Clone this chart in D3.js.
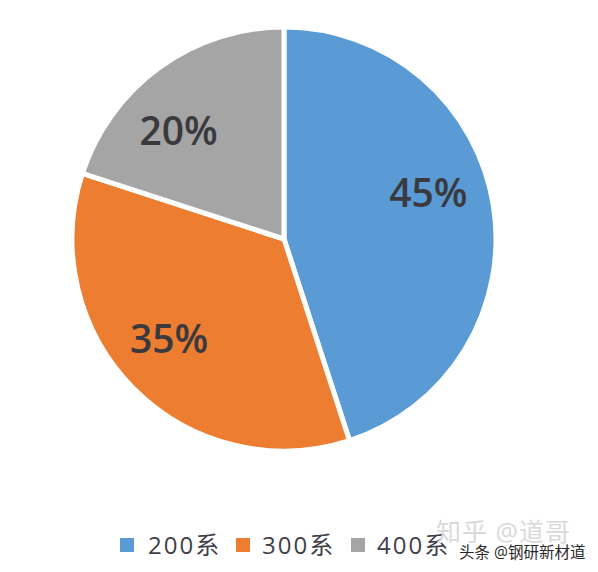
<!DOCTYPE html>
<html>
<head>
<meta charset="utf-8">
<script src="https://cdn.jsdelivr.net/npm/d3@7"></script>
<style>
body { margin: 0; background: #fff; }
svg { display: block; }
text { font-family: "Open Sans", "Noto Sans CJK SC", sans-serif; }
</style>
</head>
<body>
<svg id="chart" width="598" height="572"></svg>
<script>
const categories = ["200系", "300系", "400系"];
const values = [45, 35, 20];
const labels = ["45%", "35%", "20%"];
const colors = ["#5b9bd5", "#ed7d31", "#a5a5a5"];

const width = 598, height = 572;
const cx = 284, cy = 239, radius = 212;

const svg = d3.select("#chart");
const color = d3.scaleOrdinal().domain(categories).range(colors);

const pie = d3.pie().sort(null).value((d, i) => values[i]);
const arc = d3.arc().innerRadius(0).outerRadius(radius);
const labelArc = d3.arc().innerRadius(130).outerRadius(130);
// labels were dragged by hand in the original
const labelNudge = [[16, -26], [-23, 8], [-29, -3]];

const g = svg.append("g").attr("transform", `translate(${cx},${cy})`);
const slices = pie(categories);

g.selectAll("path")
    .data(slices)
    .join("path")
    .attr("d", arc)
    .attr("fill", d => color(d.data))
    .attr("stroke", "#fff")
    .attr("stroke-width", 5);

g.selectAll("text")
    .data(slices)
    .join("text")
    .attr("transform", (d, i) => {
        const [x, y] = labelArc.centroid(d);
        return `translate(${x + labelNudge[i][0]},${y + labelNudge[i][1]})`;
    })
    .attr("text-anchor", "middle")
    .attr("dy", "0.36em")
    .attr("font-size", 39)
    .attr("font-weight", 600)
    .attr("fill", "#3a3a3e")
    .text((d, i) => labels[i]);

// legend
const legendX = d3.scaleOrdinal().domain(categories).range([120, 236, 351]);
const legend = svg.append("g").selectAll("g")
    .data(categories)
    .join("g")
    .attr("transform", d => `translate(${legendX(d)},538)`);

legend.append("rect")
    .attr("width", 14)
    .attr("height", 14)
    .attr("fill", d => color(d));

legend.append("text")
    .attr("x", (d, i) => i === 0 ? 28 : 26)
    .attr("y", 16)
    .attr("font-size", 24)
    .attr("letter-spacing", 2)
    .attr("fill", "#3f3f4a")
    .text(d => d);

// watermarks
svg.append("text")
    .attr("x", 436).attr("y", 541)
    .attr("font-size", 25)
    .attr("letter-spacing", 1)
    .attr("fill", "#d9d9dc")
    .text("知乎 @道哥");

svg.append("text")
    .attr("x", 459).attr("y", 558)
    .attr("font-size", 15.5)
    .attr("fill", "#2a2a2a")
    .attr("stroke", "#fff")
    .attr("stroke-width", 2.5)
    .attr("paint-order", "stroke")
    .text("头条 @钢研新材道");
</script>
</body>
</html>
